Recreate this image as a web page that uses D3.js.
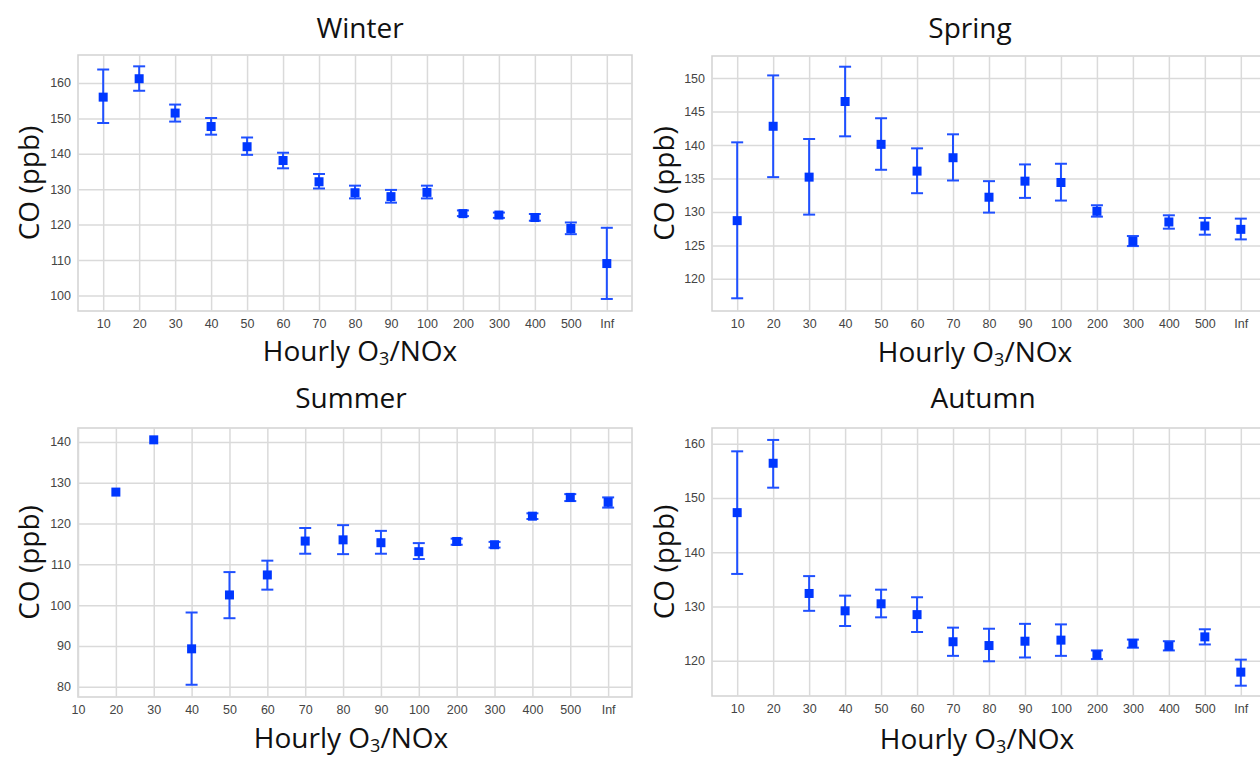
<!DOCTYPE html>
<html>
<head>
<meta charset="utf-8">
<script src="https://cdnjs.cloudflare.com/ajax/libs/d3/7.8.5/d3.min.js"></script>
<style>
  body { margin: 0; background: #fff; }
  svg { display: block; }
</style>
</head>
<body>
<div id="chart"></div>
<script>
// x categories (O3/NOx bins)
var categories = ["10", "20", "30", "40", "50", "60", "70", "80", "90", "100", "200", "300", "400", "500", "Inf"];

// Winter
var winterMean = [156.0, 161.2, 151.5, 147.7, 142.0, 138.1, 132.1, 129.0, 127.9, 129.1, 123.1, 122.7, 122.0, 118.9, 109.0];
var winterLow  = [148.7, 157.8, 149.1, 145.4, 139.7, 135.9, 130.2, 127.4, 126.2, 127.4, 122.4, 121.9, 121.1, 117.3, 99.0];
var winterHigh = [163.8, 164.7, 153.9, 150.1, 144.6, 140.3, 134.3, 131.0, 129.8, 131.0, 124.0, 123.4, 123.0, 120.6, 119.1];

// Spring
var springMean = [128.7, 142.8, 135.2, 146.5, 140.1, 136.1, 138.1, 132.2, 134.6, 134.4, 130.1, 125.6, 128.5, 127.9, 127.4];
var springLow  = [117.1, 135.2, 129.6, 141.3, 136.3, 132.8, 134.7, 129.9, 132.1, 131.7, 129.3, 124.9, 127.5, 126.6, 125.9];
var springHigh = [140.4, 150.4, 140.9, 151.7, 144.0, 139.5, 141.6, 134.6, 137.1, 137.2, 131.0, 126.4, 129.5, 129.1, 129.0];

// Summer (no value in the 10 bin, no error bar for 20 and 30)
var summerMean = [null, 127.7, 140.5, 89.3, 102.5, 107.4, 115.7, 116.0, 115.3, 113.1, 115.6, 114.8, 121.8, 126.4, 125.2];
var summerLow  = [null, null, null, 80.5, 96.8, 103.8, 112.6, 112.5, 112.6, 111.3, 114.8, 114.1, 121.1, 125.5, 123.9];
var summerHigh = [null, null, null, 98.2, 108.1, 110.9, 118.9, 119.6, 118.2, 115.2, 116.3, 115.5, 122.5, 127.2, 126.4];

// Autumn
var autumnMean = [147.3, 156.4, 132.4, 129.2, 130.5, 128.5, 123.5, 122.8, 123.6, 123.8, 121.1, 123.2, 122.7, 124.4, 117.9];
var autumnLow  = [136.0, 151.9, 129.2, 126.4, 128.0, 125.3, 120.9, 119.9, 120.6, 120.9, 120.3, 122.4, 121.9, 123.0, 115.4];
var autumnHigh = [158.6, 160.7, 135.6, 132.0, 133.1, 131.7, 126.1, 125.9, 126.8, 126.7, 121.9, 123.9, 123.6, 125.8, 120.2];

var winterTicks = [100, 110, 120, 130, 140, 150, 160];
var springTicks = [120, 125, 130, 135, 140, 145, 150];
var summerTicks = [80, 90, 100, 110, 120, 130, 140];
var autumnTicks = [120, 130, 140, 150, 160];

var W = 1260, H = 760;
var markColor = "#0037ff", barColor = "#1f50ff";
var bigFont = "'Open Sans', 'Noto Sans', sans-serif";
var tickFont = "'Liberation Sans', Arial, sans-serif";

var svg = d3.select("#chart").append("svg")
  .attr("width", W).attr("height", H);

var panels = [
  { title: "Winter", mean: winterMean, low: winterLow, high: winterHigh, ticks: winterTicks,
    box: [78, 55, 632, 311], xdom: [-0.7, 14.7], ydom: [95.6, 167.9],
    titleX: 360, titleY: 38, ylabX: 39, xlabX: 360, xlabY: 361 },
  { title: "Spring", mean: springMean, low: springLow, high: springHigh, ticks: springTicks,
    box: [712, 56, 1266, 311], xdom: [-0.7, 14.7], ydom: [115.2, 153.3],
    titleX: 970, titleY: 38, ylabX: 674, xlabX: 975, xlabY: 362 },
  { title: "Summer", mean: summerMean, low: summerLow, high: summerHigh, ticks: summerTicks,
    box: [78, 428, 632, 697], xdom: [0, 14.63], ydom: [77.5, 143.4],
    titleX: 351, titleY: 408, ylabX: 39, xlabX: 351, xlabY: 748 },
  { title: "Autumn", mean: autumnMean, low: autumnLow, high: autumnHigh, ticks: autumnTicks,
    box: [712, 428, 1266, 696], xdom: [-0.7, 14.7], ydom: [113.5, 162.9],
    titleX: 983, titleY: 408, ylabX: 674, xlabX: 977, xlabY: 749 }
];

panels.forEach(function (p) {
  var x0 = p.box[0], y0 = p.box[1], x1 = p.box[2], y1 = p.box[3];
  var x = d3.scaleLinear().domain(p.xdom).range([x0, x1]);
  var y = d3.scaleLinear().domain(p.ydom).range([y1, y0]);
  var g = svg.append("g");

  // frame
  g.append("rect")
    .attr("x", x0).attr("y", y0)
    .attr("width", x1 - x0).attr("height", y1 - y0)
    .attr("fill", "#fff").attr("stroke", "#d2d2d2").attr("stroke-width", 1.5);

  // vertical grid + x tick labels
  var xi = d3.range(categories.length);
  g.append("g")
    .attr("transform", "translate(0," + y1 + ")")
    .call(d3.axisBottom(x).tickValues(xi).tickSize(-(y1 - y0)).tickPadding(8)
      .tickFormat(function (i) { return categories[i]; }))
    .call(function (a) {
      a.select(".domain").remove();
      a.selectAll("line").attr("stroke", "#dadada").attr("stroke-width", 1.5);
      a.selectAll("text").attr("fill", "#444").style("font-family", tickFont).style("font-size", "12.5px");
    });

  // horizontal grid + y tick labels
  g.append("g")
    .attr("transform", "translate(" + x0 + ",0)")
    .call(d3.axisLeft(y).tickValues(p.ticks).tickSize(-(x1 - x0)).tickPadding(7)
      .tickFormat(d3.format("d")))
    .call(function (a) {
      a.select(".domain").remove();
      a.selectAll("line").attr("stroke", "#dadada").attr("stroke-width", 1.5);
      a.selectAll("text").attr("fill", "#444").style("font-family", tickFont).style("font-size", "12.5px");
    });

  // error bars
  var rows = xi.filter(function (i) { return p.mean[i] != null; });
  var eb = rows.filter(function (i) { return p.low[i] != null; });
  var cap = 6;
  g.selectAll(".eb").data(eb).enter().append("line")
    .attr("x1", function (i) { return x(i); }).attr("x2", function (i) { return x(i); })
    .attr("y1", function (i) { return y(p.low[i]); }).attr("y2", function (i) { return y(p.high[i]); })
    .attr("stroke", barColor).attr("stroke-width", 2);
  ["low", "high"].forEach(function (k) {
    g.selectAll(".cap-" + k).data(eb).enter().append("line")
      .attr("x1", function (i) { return x(i) - cap; }).attr("x2", function (i) { return x(i) + cap; })
      .attr("y1", function (i) { return y(p[k][i]); }).attr("y2", function (i) { return y(p[k][i]); })
      .attr("stroke", barColor).attr("stroke-width", 2);
  });

  // square markers
  var s = 9;
  g.selectAll(".pt").data(rows).enter().append("rect")
    .attr("x", function (i) { return x(i) - s / 2; })
    .attr("y", function (i) { return y(p.mean[i]) - s / 2; })
    .attr("width", s).attr("height", s)
    .attr("fill", markColor);

  // title
  svg.append("text")
    .attr("x", p.titleX).attr("y", p.titleY)
    .attr("text-anchor", "middle")
    .style("font-family", bigFont).style("font-size", "28px").attr("fill", "#111")
    .text(p.title);

  // x label with subscript
  var xl = svg.append("text")
    .attr("x", p.xlabX).attr("y", p.xlabY)
    .attr("text-anchor", "middle")
    .style("font-family", bigFont).style("font-size", "28px").attr("fill", "#111");
  xl.append("tspan").text("Hourly O");
  xl.append("tspan").attr("dy", 4).style("font-size", "18px").text("3");
  xl.append("tspan").attr("dy", -4).text("/NOx");

  // y label
  svg.append("text")
    .attr("transform", "translate(" + p.ylabX + "," + ((y0 + y1) / 2) + ") rotate(-90)")
    .attr("text-anchor", "middle")
    .style("font-family", bigFont).style("font-size", "28px").attr("fill", "#111")
    .text("CO (ppb)");
});
</script>
</body>
</html>
